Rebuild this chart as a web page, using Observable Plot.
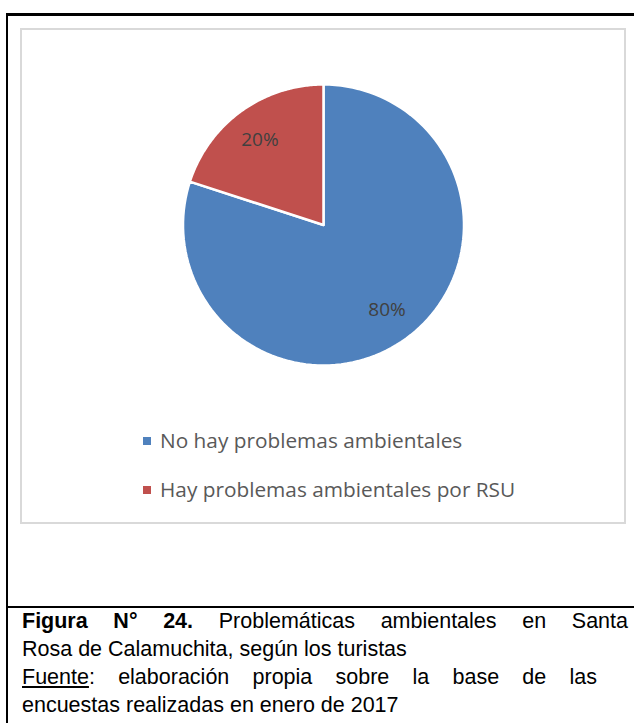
<!DOCTYPE html>
<html>
<head>
<meta charset="utf-8">
<script src="https://cdn.jsdelivr.net/npm/d3@7"></script>
<script src="https://cdn.jsdelivr.net/npm/@observablehq/plot@0.6"></script>
<style>
  html, body { margin: 0; padding: 0; background: #fff; }
  #page { position: relative; width: 634px; height: 723px; overflow: hidden; background: #fff; }
  #outer { position: absolute; left: 6px; top: 13px; width: 640px; height: 595px; border-left: 2px solid #000; border-top: 3px solid #000; border-bottom: 2px solid #000; box-sizing: border-box; }
  #leftlow { position: absolute; left: 6px; top: 600px; width: 2px; height: 130px; background: #000; }
  #box { position: absolute; left: 20px; top: 28px; width: 606px; height: 496px; border: 2px solid #d9d9d9; box-sizing: border-box; background: #fff; }
  #chart { position: absolute; left: 0; top: 0; }
  .leg { position: absolute; left: 121px; height: 24px; display: flex; align-items: center; font-family: "Open Sans", sans-serif; font-size: 20.8px; color: #595959; white-space: nowrap; }
  .leg .sw { display: inline-block; width: 8px; height: 8px; margin-right: 9px; margin-top: 2px; }
  #caption { position: absolute; left: 22px; top: 607px; font-family: "Liberation Sans", Arial, sans-serif; font-size: 21.5px; line-height: 28px; color: #000; }
  #caption div { white-space: nowrap; }
  #caption span.line { display: inline-block; }
</style>
</head>
<body>
<div id="page">
  <div id="outer"></div>
  <div id="leftlow"></div>
  <div id="box">
    <div id="chart"></div>
    <div id="legend"></div>
  </div>
  <div id="caption"></div>
</div>
<script>
// ---- data ----
const categories = ["No hay problemas ambientales", "Hay problemas ambientales por RSU"];
const values = [80, 20];
const colors = ["#4f81bd", "#c0504d"];
const labels = ["80%", "20%"];
const captionLines = [
  {bold: "Figura N° 24.", text: " Problemáticas ambientales en Santa", width: 606},
  {text: "Rosa de Calamuchita, según los turistas"},
  {under: "Fuente", text: ": elaboración propia sobre la base de las", width: 575},
  {text: "encuestas realizadas en enero de 2017"}
];

// ---- slice geometry from the values (Excel: start at 12 o'clock, clockwise) ----
const pie = d3.pie().sort(null).value(d => d.value);
const arcs = pie(categories.map((c, i) => ({category: c, value: values[i], label: labels[i]})));
const slicePts = [];
for (const a of arcs) {
  const n = 120;
  slicePts.push({category: a.data.category, x: 0, y: 0});
  for (let k = 0; k <= n; k++) {
    const t = a.startAngle + (a.endAngle - a.startAngle) * k / n;
    slicePts.push({category: a.data.category, x: Math.sin(t), y: Math.cos(t)});
  }
  slicePts.push({category: a.data.category, x: 0, y: 0});
}
const labelPts = arcs.map(a => {
  const m = (a.startAngle + a.endAngle) / 2;
  return {label: a.data.label, x: 0.77 * Math.sin(m), y: 0.75 * Math.cos(m)};
});

const W = 602, H = 360;
const cx = 301, cy = 194.5, R = 140.5;
const chart = Plot.plot({
  width: W,
  height: H,
  marginLeft: cx - R,
  marginRight: W - (cx + R),
  marginTop: cy - R,
  marginBottom: H - (cy + R),
  x: {domain: [-1, 1], axis: null},
  y: {domain: [-1, 1], axis: null},
  color: {domain: categories, range: colors},
  style: {background: "transparent", overflow: "visible"},
  marks: [
    Plot.line(slicePts, {x: "x", y: "y", z: "category", fill: "category", stroke: "#ffffff", strokeWidth: 2.5, strokeLinejoin: "miter", curve: "linear"}),
    Plot.text(labelPts, {x: "x", y: "y", text: "label", fill: "#404040", fontSize: 19, fontFamily: "Open Sans, sans-serif"})
  ]
});
document.getElementById("chart").appendChild(chart);

// ---- legend ----
const legend = document.getElementById("legend");
const legTops = [398, 447];
categories.forEach((c, i) => {
  const div = document.createElement("div");
  div.className = "leg";
  div.style.top = legTops[i] + "px";
  const sw = document.createElement("span");
  sw.className = "sw";
  sw.style.background = colors[i];
  div.appendChild(sw);
  div.appendChild(document.createTextNode(c));
  legend.appendChild(div);
});

// ---- caption (justified paragraph lines: spaces widened on full lines) ----
const cap = document.getElementById("caption");
captionLines.forEach((l, i) => {
  const div = document.createElement("div");
  const span = document.createElement("span");
  span.className = "line";
  if (l.bold) { const b = document.createElement("b"); b.textContent = l.bold; span.appendChild(b); }
  if (l.under) { const u = document.createElement("u"); u.textContent = l.under; span.appendChild(u); }
  span.appendChild(document.createTextNode(l.text));
  div.appendChild(span);
  cap.appendChild(div);
  if (l.width) {
    const natural = span.getBoundingClientRect().width;
    const gaps = (span.textContent.match(/ /g) || []).length;
    span.style.wordSpacing = ((l.width - natural) / gaps) + "px";
  }
});
</script>
</body>
</html>
